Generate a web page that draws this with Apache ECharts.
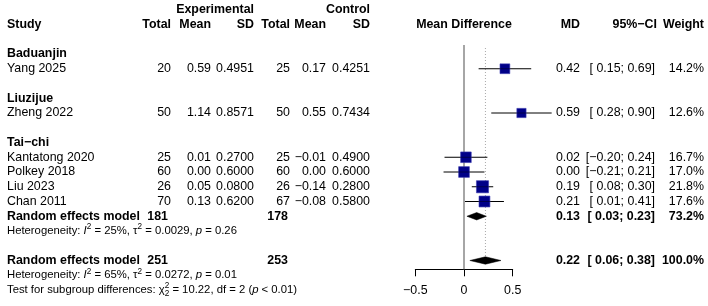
<!DOCTYPE html>
<html><head><meta charset="utf-8">
<script src="https://cdn.jsdelivr.net/npm/echarts@6/dist/echarts.min.js"></script>
<style>html,body{margin:0;padding:0;background:#fff}#c{width:708px;height:306px}</style>
</head><body><div id="c"></div>
<script>
// ---------------- data ----------------
const groups = ["Baduanjin", "Liuzijue", "Tai\u2212chi"];
const groupRows = [2, 5, 8];
const studies = ["Yang 2025", "Zheng 2022", "Kantatong 2020", "Polkey 2018", "Liu 2023", "Chan 2011"];
const studyRows = [3, 6, 9, 10, 11, 12];
const expTotal = [20, 50, 25, 60, 26, 70];
const expMean = [0.59, 1.14, 0.01, 0.00, 0.05, 0.13];
const expSD = [0.4951, 0.8571, 0.2700, 0.6000, 0.0800, 0.6200];
const ctrlTotal = [25, 50, 25, 60, 26, 67];
const ctrlMean = [0.17, 0.55, -0.01, 0.00, -0.14, -0.08];
const ctrlSD = [0.4251, 0.7434, 0.4900, 0.6000, 0.2800, 0.5800];
const md = [0.42, 0.59, 0.02, 0.00, 0.19, 0.21];
const lower = [0.15, 0.28, -0.20, -0.21, 0.08, 0.01];
const upper = [0.69, 0.90, 0.24, 0.21, 0.30, 0.41];
const weight = [14.2, 12.6, 16.7, 17.0, 21.8, 17.6];

const pooledLabel = ["Random effects model", "Random effects model"];
const pooledRows = [13, 16];
const pooledExpTotal = [181, 251];
const pooledCtrlTotal = [178, 253];
const pooledMD = [0.13, 0.22];
const pooledLower = [0.03, 0.06];
const pooledUpper = [0.23, 0.38];
const pooledWeight = [73.2, 100.0];

const hetRows = [14, 17];
const hetI2 = [25, 65];
const hetTau2 = ["0.0029", "0.0272"];
const hetP = ["0.26", "0.01"];
const testRow = 18;
const testChi2 = "10.22";
const testDf = 2;
const testP = "< 0.01";

const xTicks = [-0.5, 0, 0.5];
const headerRow = 0, superHeaderRow = -1;

// ---------------- layout ----------------
const ROW0 = 24.5, ROWH = 14.75, ROWMIN = -1, ROWMAX = 18;
const PLOT_L = 415.3, PLOT_W = 97.4, AXIS_Y = 269.3;
const FONT = '"Liberation Sans", Arial, sans-serif';
const FS = 12.4, FS_HET = 11.3, FS_SMALL = 8.2;
const COL = { study: 7, eT: 171, eM: 211, eS: 254, cT: 290, cM: 326, cS: 370, plot: 464, md: 580, ci: 655, w: 704 };

const M = s => String(s).replace(/-/g, '\u2212');
const f = (v, d) => M(v.toFixed(d));
const ci = (l, u) => '[' + (l < 0 ? '' : ' ') + f(l, 2) + '; ' + f(u, 2) + ']';

const cells = [];
function cell(row, x, text, align, bold) { cells.push({ row, x, text: String(text), align: align || 'right', bold: !!bold }); }
// headers
cell(superHeaderRow, COL.eS, 'Experimental', 'right', true);
cell(superHeaderRow, COL.cS, 'Control', 'right', true);
[['Study', COL.study, 'left'], ['Total', COL.eT], ['Mean', COL.eM], ['SD', COL.eS], ['Total', COL.cT], ['Mean', COL.cM], ['SD', COL.cS],
 ['Mean Difference', COL.plot, 'center'], ['MD', COL.md], ['95%\u2212CI', COL.ci + 2], ['Weight', COL.w]]
  .forEach(h => cell(headerRow, h[1], h[0], h[2] || 'right', true));
groups.forEach((g, i) => cell(groupRows[i], COL.study, g, 'left', true));
studies.forEach((s, i) => {
  const r = studyRows[i];
  cell(r, COL.study, s, 'left');
  cell(r, COL.eT, expTotal[i]);
  cell(r, COL.eM, f(expMean[i], 2));
  cell(r, COL.eS, f(expSD[i], 4));
  cell(r, COL.cT, ctrlTotal[i]);
  cell(r, COL.cM, f(ctrlMean[i], 2));
  cell(r, COL.cS, f(ctrlSD[i], 4));
  cell(r, COL.md, f(md[i], 2));
  cell(r, COL.ci, ci(lower[i], upper[i]));
  cell(r, COL.w, weight[i].toFixed(1) + '%');
});
pooledLabel.forEach((p, i) => {
  const r = pooledRows[i];
  cell(r, COL.study, p, 'left', true);
  cell(r, COL.eT - 3, pooledExpTotal[i], 'right', true);
  cell(r, COL.cT - 2, pooledCtrlTotal[i], 'right', true);
  cell(r, COL.md, f(pooledMD[i], 2), 'right', true);
  cell(r, COL.ci, ci(pooledLower[i], pooledUpper[i]), 'right', true);
  cell(r, COL.w, pooledWeight[i].toFixed(1) + '%', 'right', true);
});
hetRows.forEach((r, i) => {
  cells.push({ row: r, x: COL.study, segs: [
    { t: 'Heterogeneity: ' }, { t: 'I', it: true }, { t: '2', sup: true },
    { t: ' = ' + hetI2[i] + '%, \u03c4' }, { t: '2', sup: true },
    { t: ' = ' + hetTau2[i] + ', ' }, { t: 'p', it: true }, { t: ' = ' + hetP[i] }] });
});
cells.push({ row: testRow, x: COL.study, segs: [
  { t: 'Test for subgroup differences: \u03c7' }, { t: '2', sup: true, stay: true }, { t: '2', sub: true },
  { t: ' = ' + testChi2 + ', df = ' + testDf + ' (' }, { t: 'p', it: true }, { t: ' ' + testP + ')' }] });

const ctx = document.createElement('canvas').getContext('2d');
function fontStr(size, bold, it) { return (it ? 'italic ' : '') + (bold ? 'bold ' : '') + size + 'px ' + FONT; }
function txt(x, y, text, font, align) {
  return { type: 'text', x, y, style: { text, font, fill: '#000', align, verticalAlign: 'middle', textAlign: align, textVerticalAlign: 'middle' } };
}

function renderText(params, api) {
  const c = cells[params.dataIndex];
  const y = api.coord([0, c.row])[1];
  if (!c.segs) return txt(c.x, y, c.text, fontStr(FS, c.bold), c.align);
  const children = [];
  let x = c.x;
  c.segs.forEach(s => {
    const size = (s.sup || s.sub) ? FS_SMALL : FS_HET;
    const font = fontStr(size, false, s.it);
    const dy = s.sup ? -4 : (s.sub ? 3.5 : 0);
    children.push(txt(x, y + dy, s.t, font, 'left'));
    ctx.font = font;
    if (!s.stay) x += ctx.measureText(s.t).width;
  });
  return { type: 'group', children };
}

function renderStudy(params, api) {
  const c = api.coord([api.value(0), api.value(1)]);
  const lo = api.coord([api.value(2), api.value(1)]);
  const hi = api.coord([api.value(3), api.value(1)]);
  const s = 2.6 * Math.sqrt(api.value(4));
  return { type: 'group', children: [
    { type: 'line', shape: { x1: lo[0], y1: c[1], x2: hi[0], y2: c[1] }, style: { stroke: '#000', lineWidth: 1 } },
    { type: 'rect', shape: { x: c[0] - s / 2, y: c[1] - s / 2, width: s, height: s }, style: { fill: '#000088', stroke: '#3a3ab0', lineWidth: 0.6 } },
    { type: 'line', shape: { x1: c[0] - s / 2, y1: c[1], x2: c[0] + s / 2, y2: c[1] }, style: { stroke: 'rgba(0,0,0,0.45)', lineWidth: 1 } }
  ] };
}

function renderDiamond(params, api) {
  const c = api.coord([api.value(0), api.value(1)]);
  const lo = api.coord([api.value(2), api.value(1)]);
  const hi = api.coord([api.value(3), api.value(1)]);
  const h = 3.7;
  return { type: 'polygon', shape: { points: [[lo[0], c[1]], [c[0], c[1] - h], [hi[0], c[1]], [c[0], c[1] + h]] }, style: { fill: '#000', stroke: '#000', lineWidth: 0.5 } };
}

function renderRefLines(params, api) {
  const z = api.coord([0, 0])[0];
  const o = api.coord([api.value(0), api.value(1)]);
  return { type: 'group', children: [
    { type: 'line', shape: { x1: z, y1: 45, x2: z, y2: AXIS_Y }, style: { stroke: '#808080', lineWidth: 1.4 } },
    { type: 'line', shape: { x1: o[0], y1: 48, x2: o[0], y2: o[1] - 4 }, style: { stroke: '#a8a8a8', lineWidth: 1, lineDash: [1, 2] } }
  ] };
}

const chart = echarts.init(document.getElementById('c'), null, { renderer: 'canvas' });
chart.setOption({
  animation: false,
  backgroundColor: '#fff',
  grid: [
    { left: PLOT_L, width: PLOT_W, top: ROW0 + ROWMIN * ROWH, height: (ROWMAX - ROWMIN) * ROWH },
    { left: PLOT_L, width: PLOT_W, top: ROW0 + ROWMIN * ROWH, height: AXIS_Y - (ROW0 + ROWMIN * ROWH) }
  ],
  xAxis: [
    { gridIndex: 0, type: 'value', min: xTicks[0], max: xTicks[xTicks.length - 1], show: false },
    { gridIndex: 1, type: 'value', min: xTicks[0], max: xTicks[xTicks.length - 1], interval: xTicks[1] - xTicks[0],
      axisLine: { show: true, lineStyle: { color: '#000', width: 1 } },
      axisTick: { show: true, length: 7, lineStyle: { color: '#000', width: 1 } },
      splitLine: { show: false },
      axisLabel: { margin: 15, color: '#000', fontSize: FS, fontFamily: FONT, formatter: v => M(v) } }
  ],
  yAxis: [
    { gridIndex: 0, type: 'value', inverse: true, min: ROWMIN, max: ROWMAX, show: false },
    { gridIndex: 1, type: 'value', show: false }
  ],
  series: [
    { type: 'custom', xAxisIndex: 0, yAxisIndex: 0, clip: false, silent: true,
      data: [[pooledMD[1], pooledRows[1]]], renderItem: renderRefLines },
    { type: 'custom', xAxisIndex: 0, yAxisIndex: 0, clip: false, silent: true,
      data: studyRows.map((r, i) => [md[i], r, lower[i], upper[i], weight[i]]), renderItem: renderStudy },
    { type: 'custom', xAxisIndex: 0, yAxisIndex: 0, clip: false, silent: true,
      data: pooledRows.map((r, i) => [pooledMD[i], r, pooledLower[i], pooledUpper[i]]), renderItem: renderDiamond },
    { type: 'custom', xAxisIndex: 0, yAxisIndex: 0, clip: false, silent: true,
      data: cells.map(c => [0, c.row]), renderItem: renderText }
  ]
});
</script></body></html>
